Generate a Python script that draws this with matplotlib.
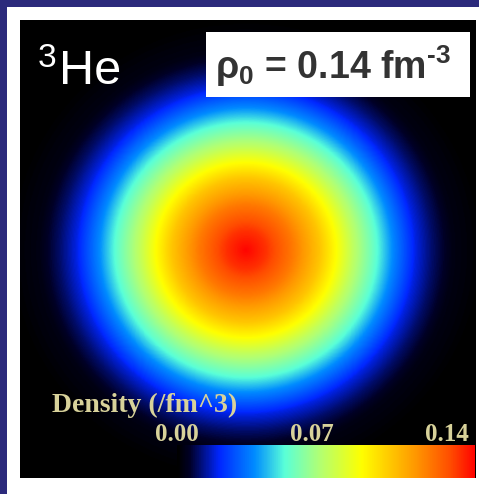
import numpy as np
import matplotlib
matplotlib.use("Agg")
import matplotlib.pyplot as plt
from matplotlib.colors import LinearSegmentedColormap
from matplotlib.patches import Rectangle

# radial density profile of 3He (fm, fm^-3)
radius_fm = [0.0, 0.35, 0.82, 1.30, 1.58, 1.89, 2.28, 2.60, 2.98, 3.28, 3.63, 4.2, 8.0]
density = [0.140, 0.133, 0.119, 0.101, 0.087, 0.070, 0.052, 0.035, 0.018, 0.010, 0.003, 0.0, 0.0]

cbar_ticks = [0.00, 0.07, 0.14]
cbar_labels = ["0.00", "0.07", "0.14"]
rho0 = 0.14

NAVY = "#2c2a7c"
LABEL = "#d8d29a"

plt.rcParams["mathtext.fontset"] = "custom"
plt.rcParams["mathtext.bf"] = "Liberation Sans:bold"
plt.rcParams["mathtext.rm"] = "Liberation Sans:bold"
plt.rcParams["mathtext.it"] = "Liberation Sans:bold"
plt.rcParams["mathtext.default"] = "bf"

cmap = LinearSegmentedColormap.from_list("dens", [
    (0.00, (0.0, 0.0, 0.0)),
    (0.04, (0.0, 0.0, 0.15)),
    (0.14, (0.0, 0.15, 1.0)),
    (0.26, (0.0, 0.55, 1.0)),
    (0.36, (0.35, 1.0, 0.85)),
    (0.48, (0.7, 1.0, 0.45)),
    (0.62, (1.0, 1.0, 0.0)),
    (0.80, (1.0, 0.6, 0.0)),
    (0.92, (1.0, 0.3, 0.0)),
    (1.00, (1.0, 0.02, 0.0)),
])

W, H = 479, 494
fig = plt.figure(figsize=(W / 100, H / 100), dpi=100, facecolor=NAVY)

def fx(px):
    return px / W

def fy(py):
    return 1 - py / H

# white frame
fig.patches.append(Rectangle((fx(7), 0), 1 - fx(7), fy(7), transform=fig.transFigure,
                             facecolor="white", edgecolor="none", zorder=-5))

# density map
ax = fig.add_axes([fx(20), fy(478), fx(476) - fx(20), fy(20) - fy(478)], zorder=1)
ax.set_facecolor("black")
scale = 57.0  # px per fm
x0, x1 = -(246 - 20) / scale, (476 - 246) / scale
y0, y1 = -(478 - 250) / scale, (250 - 20) / scale
xs = np.linspace(x0, x1, 500)
ys = np.linspace(y0, y1, 500)
X, Y = np.meshgrid(xs, ys)
R = np.hypot(X, Y * 1.03)
img = np.interp(R, radius_fm, density)
ax.imshow(img, cmap=cmap, vmin=0, vmax=rho0, origin="lower",
          extent=[x0, x1, y0, y1], interpolation="bilinear", aspect="auto")
ax.set_axis_off()

# colour bar strip
cax = fig.add_axes([fx(177), fy(478), fx(475) - fx(177), fy(445) - fy(478)], zorder=2)
xmax = 0.14 * 298 / 270
grad = np.linspace(0, xmax, 400)[None, :]
cax.imshow(grad, cmap=cmap, vmin=0, vmax=xmax, extent=[0, xmax, 0, 1], aspect="auto")
cax.set_xlim(0, xmax)
cax.set_ylim(0, 1)
cax.set_axis_off()
for t, lab in zip(cbar_ticks, cbar_labels):
    cax.text(t, 1.33, lab, ha="center", va="center", color=LABEL,
             family="Liberation Serif", fontweight="bold", fontsize=18, clip_on=False)

fig.text(fx(52), fy(405), "Density (/fm^3)", ha="left", va="center", color=LABEL,
         family="Liberation Serif", fontweight="bold", fontsize=20, zorder=5)

# nucleus label
fig.text(fx(59), fy(84), "He", ha="left", va="baseline", color="white",
         family="Liberation Sans", fontsize=35, zorder=5)
fig.text(fx(38), fy(67), "3", ha="left", va="baseline", color="white",
         family="Liberation Sans", fontsize=24, zorder=5)

# central density box
fig.patches.append(Rectangle((fx(206), fy(97)), fx(470) - fx(206), fy(32) - fy(97),
                             transform=fig.transFigure, facecolor="white",
                             edgecolor="none", zorder=5))
fig.text(fx(333), fy(66), r"$\rho_0$ = %.2f fm$^{\text{-3}}$" % rho0, ha="center", va="center",
         color="#333333", family="Liberation Sans", fontweight="bold", fontsize=27, zorder=6)

fig.savefig("out.png", dpi=100, facecolor=NAVY)
